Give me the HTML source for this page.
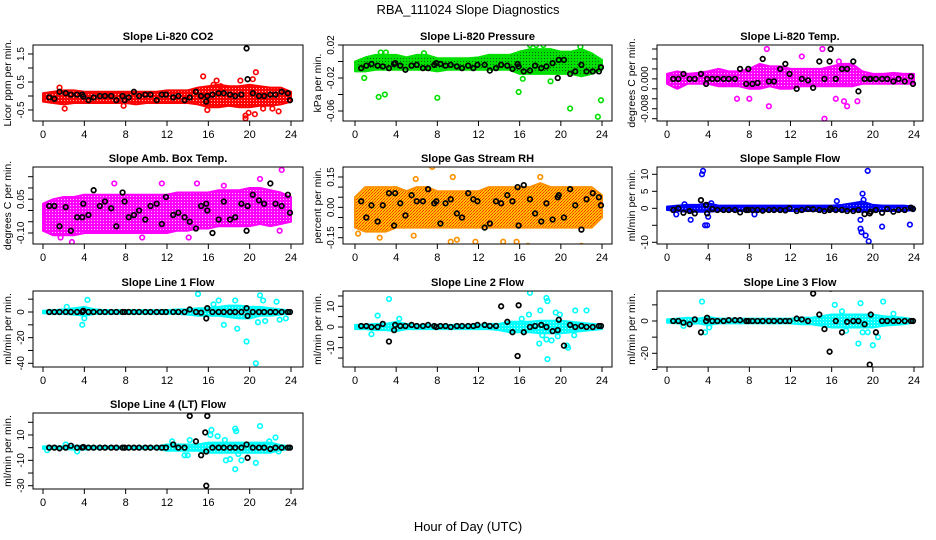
<!DOCTYPE html>
<html><head><meta charset="utf-8"><style>
body{margin:0;background:#fff;}
svg{display:block;font-family:"Liberation Sans",Arial,sans-serif;}
</style></head><body>
<svg id="chart" width="936" height="540" viewBox="0 0 936 540" xmlns="http://www.w3.org/2000/svg">
<defs>
<pattern id="pRed" width="3" height="3" patternUnits="userSpaceOnUse"><rect width="3" height="3" fill="#ff0000"/><rect x="1" y="1" width="1" height="1" fill="#ffb0b0"/></pattern>
<pattern id="pGreen" width="3" height="3" patternUnits="userSpaceOnUse"><rect width="3" height="3" fill="#00e000"/><rect x="1" y="1" width="1" height="1" fill="#106010"/></pattern>
<pattern id="pMag" width="3" height="3" patternUnits="userSpaceOnUse"><rect width="3" height="3" fill="#ff00ff"/><rect x="1" y="1" width="1" height="1" fill="#ffc0ff"/></pattern>
<pattern id="pOrange" width="3" height="3" patternUnits="userSpaceOnUse"><rect width="3" height="3" fill="#ffc000"/><rect width="1" height="1" fill="#ff3000"/><rect x="2" y="1" width="1" height="1" fill="#ff3000"/><rect x="1" y="2" width="1" height="1" fill="#ff6000"/></pattern>
<pattern id="pBlue" width="3" height="3" patternUnits="userSpaceOnUse"><rect width="3" height="3" fill="#0000ff"/><rect x="1" y="1" width="1" height="1" fill="#8080ff"/></pattern>
<pattern id="pCyan" width="3" height="3" patternUnits="userSpaceOnUse"><rect width="3" height="3" fill="#00ffff"/><rect x="1" y="1" width="1" height="1" fill="#b0ffff"/></pattern>
</defs>
<text x="468" y="14" font-size="13" text-anchor="middle">RBA_111024  Slope Diagnostics</text>
<text x="468" y="531" font-size="13" text-anchor="middle">Hour of Day (UTC)</text>
</svg>
<script>
// shared hour axis
const xTicks = [0,4,8,12,16,20,24];
const blackHours = [0.6,1.1,1.6,2.2,2.7,3.3,3.8,3.9,4.4,4.9,5.5,6.0,6.6,7.1,7.7,7.9,8.3,8.8,9.3,9.9,10.4,11.0,11.5,11.9,12.6,13.1,13.7,14.2,14.8,15.3,15.8,15.9,16.4,17.0,17.5,18.1,18.6,19.2,19.7,19.8,20.3,20.9,21.4,22.0,22.5,23.1,23.7,23.9];
const bandHours = [0,1,2,3,4,5,6,7,8,9,10,11,12,13,14,15,16,17,18,19,20,21,22,23,24];

// Panel 1: CO2
const co2Low = [-0.2,-0.25,-0.3,-0.25,-0.25,-0.25,-0.25,-0.25,-0.25,-0.3,-0.25,-0.25,-0.25,-0.25,-0.25,-0.3,-0.4,-0.4,-0.35,-0.4,-0.4,-0.35,-0.35,-0.3,-0.2];
const co2High = [0.1,0.15,0.2,0.2,0.15,0.15,0.15,0.15,0.15,0.15,0.15,0.15,0.2,0.2,0.2,0.3,0.35,0.4,0.35,0.35,0.4,0.35,0.3,0.3,0.15];
const co2Black = [-0.05,-0.1,0.15,0.1,0.05,0.05,0.05,-0.02,-0.15,-0.05,0,0,0,-0.15,0,-0.15,-0.05,0.15,0,0.05,0.05,-0.15,0.05,0.05,-0.05,0,-0.15,-0.05,0.15,0,-0.2,0,0.05,0.1,0.1,0.05,0,0.05,1.7,0.6,0.1,0,0,0.05,0.05,0.15,0.1,-0.15];
const co2Out = [[2.1,-0.45],[15.5,0.7],[15.9,-0.5],[16.5,0.4],[16.8,0.55],[17.2,0.35],[19.1,0.55],[19.6,-0.7],[19.6,-0.8],[19.9,-0.6],[20.3,0.6],[20.6,0.85],[20.5,-0.65],[21.3,-0.45],[22.8,-0.55],[22.2,-0.45],[1.6,0.3],[7.8,-0.35]];
const co2Ticks = [-0.5,0,0.5,1,1.5];
const co2Labels = ["-0.5","","0.5","","1.5"];

// Panel 2: Pressure
const presLow = [-0.012,-0.012,-0.01,-0.01,-0.01,-0.01,-0.01,-0.01,-0.012,-0.01,-0.01,-0.01,-0.01,-0.01,-0.01,-0.01,-0.015,-0.015,-0.015,-0.015,-0.015,-0.015,-0.018,-0.015,-0.01];
const presHigh = [0,0.005,0.008,0.008,0.008,0.005,0.008,0.008,0.004,0.004,0.004,0.004,0.005,0.008,0.008,0.008,0.012,0.015,0.015,0.015,0.012,0.012,0.015,0.01,0.002];
const presBlack = [-0.008,-0.005,-0.003,-0.005,-0.006,-0.008,-0.003,-0.002,-0.005,-0.01,-0.005,-0.004,-0.008,-0.008,-0.004,-0.002,-0.003,-0.005,-0.004,-0.006,-0.008,-0.005,-0.008,-0.004,-0.004,-0.011,-0.008,-0.004,-0.005,-0.009,-0.003,-0.006,-0.012,-0.011,-0.005,-0.008,-0.006,-0.002,-0.02,0.002,0.002,-0.015,-0.012,-0.004,-0.012,-0.012,-0.012,-0.007];
const presOut = [[0.9,-0.02],[2.3,-0.043],[2.9,-0.04],[8.0,-0.044],[2.5,0.011],[3.0,0.011],[6.7,0.010],[15.9,-0.037],[16.3,-0.021],[19.0,-0.024],[19.4,-0.078],[20.9,-0.057],[23.6,-0.067],[23.9,-0.047],[17.0,0.02],[17.6,0.02],[18.3,0.02],[21.9,0.018]];
const presTicks = [0.02,0,-0.02,-0.04,-0.06];
const presLabels = ["0.02","","-0.02","","-0.06"];

// Panel 3: Li-820 Temp
const ltLow = [-0.001,-0.002,-0.001,-0.001,-0.001,-0.0015,-0.0015,-0.0015,-0.002,-0.002,-0.0015,-0.002,-0.002,-0.0015,-0.0015,-0.0015,-0.0015,-0.0015,-0.0015,-0.001,-0.001,-0.001,-0.001,-0.001,-0.001];
const ltHigh = [0.001,0.0015,0.001,0.0012,0.0015,0.002,0.0015,0.0015,0.002,0.003,0.0025,0.0025,0.002,0.002,0.002,0.002,0.0025,0.003,0.003,0.0015,0.001,0.001,0.0012,0.001,0.001];
const ltBlack = [0,0,0.001,0,0,0.001,-0.001,0,0,0,0,0,0,0.002,-0.001,0.002,-0.001,-0.0008,0.004,-0.0005,-0.0005,0.002,0.003,0.001,-0.002,0,-0.0003,-0.0018,0.0035,0,0.0035,0.006,0,0.002,0.002,0.0035,-0.0025,0,0,0,0,0,0,-0.0005,0,-0.0005,0.0005,-0.001];
const ltOut = [[9.7,0.006],[15.3,-0.008],[9.9,-0.0055],[15.1,0.006],[6.8,-0.004],[8.0,-0.004],[16.4,-0.004],[17.2,-0.0045],[17.5,-0.0055],[18.5,-0.0045],[13.1,0.0045],[16.7,0.0035]];
const ltTicks = [0.006,0.004,0.002,0,-0.002,-0.004,-0.006,-0.008];
const ltLabels = ["","","","0.000","","","-0.008",""];

// Panel 4: Amb. Box Temp
const abLow = [-0.09,-0.11,-0.11,-0.11,-0.1,-0.1,-0.1,-0.1,-0.1,-0.1,-0.1,-0.1,-0.1,-0.09,-0.09,-0.08,-0.08,-0.07,-0.07,-0.07,-0.07,-0.06,-0.07,-0.06,-0.05];
const abHigh = [0.03,0.05,0.06,0.06,0.07,0.07,0.07,0.07,0.07,0.07,0.07,0.07,0.07,0.08,0.08,0.08,0.08,0.09,0.09,0.09,0.1,0.1,0.09,0.08,0.06];
const abBlack = [0.02,0.02,-0.07,0.015,-0.09,-0.03,-0.03,0.03,-0.02,0.09,0.02,0.04,0.01,-0.07,0.08,0.04,-0.03,-0.02,0.0,-0.04,0.02,0.03,-0.06,0.06,-0.02,-0.01,-0.03,-0.05,-0.08,0.02,0.03,0.0,-0.1,-0.04,0.04,-0.04,-0.03,0.03,-0.09,0.02,0.07,0.045,0.03,0.12,0.03,0.02,0.07,-0.01];
const abOut = [[2.8,-0.14],[1.7,-0.12],[9.6,-0.12],[14.1,-0.12],[23.1,0.18],[21.0,0.14],[22.9,-0.09],[6.9,0.12],[11.5,0.12],[14.9,0.12],[17.5,0.11]];
const abTicks = [0.15,0.1,0.05,0,-0.05,-0.1];
const abLabels = ["","","0.05","","","-0.10"];

// Panel 5: Gas Stream RH
const rhLow = [-0.1,-0.12,-0.12,-0.12,-0.1,-0.1,-0.1,-0.1,-0.1,-0.1,-0.1,-0.1,-0.1,-0.1,-0.1,-0.1,-0.1,-0.1,-0.1,-0.1,-0.1,-0.1,-0.1,-0.1,-0.05];
const rhHigh = [0.05,0.1,0.1,0.1,0.1,0.08,0.1,0.1,0.08,0.08,0.08,0.08,0.08,0.1,0.1,0.1,0.1,0.1,0.12,0.1,0.1,0.1,0.1,0.1,0.06];
const rhBlack = [0.03,-0.05,0.01,-0.07,0.01,0.07,-0.09,0.07,0.02,-0.04,0.06,0.03,0.03,0.09,0.02,0.03,-0.08,0.02,0.04,-0.03,-0.05,0.07,0.04,0.03,-0.1,-0.08,0.03,0.02,0.06,0.03,0.1,-0.09,0.11,0.04,-0.03,-0.07,0.02,-0.06,0.05,0.06,-0.05,0.09,0.01,-0.11,0.04,0.07,0.05,0.01];
const rhOut = [[7.5,0.2],[0.3,-0.13],[2.4,-0.15],[5.7,-0.14],[8.8,-0.2],[9.3,-0.17],[11.7,-0.17],[15.7,-0.17],[16.8,-0.19],[22.0,-0.19],[9.9,-0.16],[14.4,-0.17],[18.0,0.15],[9.5,0.15],[5.9,0.14]];
const rhTicks = [0.15,0.1,0.05,0,-0.05,-0.1,-0.15];
const rhLabels = ["0.15","","","0.00","","","-0.15"];

// Panel 6: Sample Flow
const sfLow = [-0.5,-0.8,-1,-1,-1,-0.8,-0.8,-0.8,-0.8,-0.8,-0.8,-0.8,-0.8,-0.8,-0.8,-0.8,-0.8,-0.8,-0.8,-1,-0.8,-0.8,-0.8,-0.8,-0.5];
const sfHigh = [0.5,0.8,1,1,1.5,0.8,0.8,0.8,0.8,0.8,0.8,0.8,0.8,0.8,0.8,0.8,0.8,1,1.5,2,1,0.8,0.8,0.8,0.5];
const sfBlack = [-0.5,0,-1.3,-0.8,-1.5,2.4,1,-1.5,-0.2,-0.5,-0.5,-0.5,-0.5,-1.2,-0.5,-0.5,-0.5,-0.5,-0.7,-0.5,-0.5,-0.5,-0.6,0,-0.8,-0.5,-0.2,-0.3,-0.5,-0.8,-0.5,0,-0.5,-0.5,-0.8,-0.8,-0.5,-1.7,-1.5,-1.0,-0.5,-1.3,-0.2,-1.0,-0.5,-0.5,0.2,-0.2];
const sfOut = [[3.4,10],[3.5,11],[3.7,-5],[3.9,-5],[4.0,-2.5],[2.3,-3.4],[19.5,11],[19.0,4.3],[19.1,2.5],[18.8,-6],[18.9,-7],[19.3,-8],[19.6,-9.7],[18.8,-3.4],[20.9,-5.4],[23.6,-4.8],[16.5,2.1],[0.9,-1.8],[8.5,-1.8],[4.3,1.5],[1.7,1.2]];
const sfTicks = [10,5,0,-5,-10];
const sfLabels = ["10","5","0","","-10"];

// Panel 7: Line 1 Flow
const l1Low = [-1,-1.5,-1.5,-2,-3,-1.5,-1.5,-1.5,-1.5,-1.5,-1.5,-1.5,-1.5,-1.5,-2,-3,-3,-3,-4,-5,-5,-3,-3,-2,-1];
const l1High = [1,1.5,2,3,4,2,1.5,1.5,1.5,1.5,1.5,1.5,1.5,2,2,3,3,4,5,5,4,4,3,2,1];
const l1Black = [0,0,0,0,0,0,0,1,0,0,0,0,0,0,0,0,0,0,0,0,0,0,0,0,0,0,0,2,0,-0.5,-5,3,0,0,0,0,0,0,3,-3,0,0,0,0,0,0,0,0];
const l1Out = [[3.8,-10],[4.3,9.5],[4.0,-5],[15.0,14],[16.5,6],[17.0,9],[17.5,-10],[18.6,9],[18.8,-13],[19.7,-23],[20.6,-40],[21.0,13],[21.3,9],[22.6,8],[20.8,-8],[22.9,-6],[23.5,-5],[21.5,-7],[2.3,4]];
const l1Ticks = [10,0,-10,-20,-30,-40];
const l1Labels = ["","0","","-20","","-40"];

// Panel 8: Line 2 Flow
const l2Low = [-1,-1,-1.5,-1.5,-2,-1,-1,-1,-1,-1,-1,-1,-1,-1,-1.5,-2.5,-2.5,-2.5,-3,-3,-3,-2.5,-2,-1.5,-1];
const l2High = [1,1,1.5,1.5,2.5,1.5,1,1,1,1,1,1,1,1.5,1.5,2.5,2.5,2.5,3,3,3,2.5,2,1.5,1];
const l2Black = [0.5,0.5,0,0,1.5,-7,-1.5,1,0.5,0.5,1,0.5,0.5,1,0.5,0,0.5,0.5,0,0.5,0.5,0.5,0.5,1,1,0.5,0.5,10,2.5,-2.5,-14,10.5,-2.5,0,0.5,1,0,-2,-1.5,3.5,-9,1,0,0.5,0,0,0.5,0.5];
const l2Out = [[3.3,13.5],[2.2,5.5],[1.6,-3.5],[17.0,16.5],[18.6,14],[18.7,12.5],[18.0,8],[16.9,6],[17.9,-8],[18.2,-4],[18.6,-6],[18.7,-15.5],[19.1,-6.5],[19.5,7],[19.9,6],[20.6,-9],[20.7,-10],[21.4,8],[22.5,8],[21.3,-4],[19.3,-1.5],[19.7,-4.5],[16.2,4],[4.3,4]];
const l2Ticks = [15,10,5,0,-5,-10,-15];
const l2Labels = ["","10","","0","","-10",""];

// Panel 9: Line 3 Flow
const l3Low = [-1,-1.5,-2,-1.5,-2.5,-1.5,-1.5,-1.5,-1.5,-1.5,-1.5,-1.5,-1.5,-2,-2,-3,-4,-4,-4,-4,-4,-3,-2.5,-2,-1];
const l3High = [1,1.5,2,1.5,2.5,1.5,1.5,1.5,1.5,1.5,1.5,1.5,1.5,2,2,3,4,4,4,4,4,3,2.5,2,1];
const l3Black = [0,0,-1,-2,1,-7,0,2,0,0,0,0.5,0.5,0.5,0,0,0,0,0,0,0,0,0,0,1.5,1,0,17,4,-5,-19,20,0,-7,-0.5,0,0,-2,-27,4,-7,0,0,0,0,0,0,0];
const l3Out = [[3.4,12],[3.7,-7],[4.1,-4],[16.3,10],[17.0,6],[18.6,-14],[18.8,11],[19.5,-7],[20.0,-15],[20.5,-10],[21.0,12],[22.0,4.5],[17.4,-6],[19.0,-7],[1.6,-3]];
const l3Ticks = [10,0,-10,-20,-30];
const l3Labels = ["","0","","-20",""];

// Panel 10: Line 4 (LT) Flow
const l4Low = [-1,-1,-1,-1.5,-1.5,-1,-1,-1,-1,-1,-1,-1,-2.5,-2.5,-2.5,-2.5,-4,-4,-4,-4,-4,-4,-4,-2,-1];
const l4High = [1,1,1,1.5,1.5,1,1,1,1,1,1,1,2.5,2.5,2.5,2.5,4,4,4,4,4,4,4,2,1];
const l4Black = [0,0,-0.5,0,1.5,0,0,0.5,0,0,0,0,0,0,0,0,0,0,0,0,0,0,0,0,2.5,0,0,25,5,-6,-30,25,0,0,0,0,0,0,2.5,-8,0,0,0,-1,0,0,0,0];
const l4Extra = [[15.7,12],[15.8,-3]];
const l4Out = [[2.2,2.5],[12.5,5],[13.7,-6],[14.2,6],[16.3,14],[16.2,10],[16.9,9],[17.6,6],[17.7,-10],[18.1,-9],[18.6,15],[18.7,13],[18.6,-17],[18.9,-5],[19.2,-10],[20.6,-12],[21.0,17],[22.5,8],[21.9,5],[22.8,-3],[14.0,-6],[0.4,-2],[3.3,-3]];
const l4Ticks = [20,10,0,-10,-20,-30];
const l4Labels = ["","10","","-10","","-30"];

const NS = "http://www.w3.org/2000/svg";
const svg = document.getElementById('chart');
const cols = [[33,303,43,291],[343,612,355,602],[657,923,667,914]];
const rows = [[45,121],[167,244],[291,367],[413,489]];

function mk(tag, attrs, parent){
  const e = document.createElementNS(NS, tag);
  for (const k in attrs) e.setAttribute(k, attrs[k]);
  (parent||svg).appendChild(e);
  return e;
}

const panels = [
 {id:'co2',c:0,r:0,title:'Slope Li-820 CO2',ylab:'Licor ppm per min.',v0:1.5,p0:54,v1:-0.5,p1:110,fill:'url(#pRed)',col:'#ff0000',lo:co2Low,hi:co2High,bl:co2Black,out:co2Out,ticks:co2Ticks,labels:co2Labels},
 {id:'pressure',c:1,r:0,title:'Slope Li-820 Pressure',ylab:'kPa per min.',v0:0.02,p0:45,v1:-0.06,p1:111,fill:'url(#pGreen)',col:'#00e000',lo:presLow,hi:presHigh,bl:presBlack,out:presOut,ticks:presTicks,labels:presLabels},
 {id:'li820-temp',c:2,r:0,title:'Slope Li-820 Temp.',ylab:'degrees C per min.',v0:0.006,p0:49,v1:-0.008,p1:118.7,fill:'url(#pMag)',col:'#ff00ff',lo:ltLow,hi:ltHigh,bl:ltBlack,out:ltOut,ticks:ltTicks,labels:ltLabels},
 {id:'amb-box-temp',c:0,r:1,title:'Slope Amb. Box Temp.',ylab:'degrees C per min.',v0:0.15,p0:176.7,v1:-0.1,p1:233,fill:'url(#pMag)',col:'#ff00ff',lo:abLow,hi:abHigh,bl:abBlack,out:abOut,ticks:abTicks,labels:abLabels},
 {id:'gas-stream-rh',c:1,r:1,title:'Slope Gas Stream RH',ylab:'percent per min.',v0:0.15,p0:177,v1:-0.15,p1:237.7,fill:'url(#pOrange)',col:'#ff9000',lo:rhLow,hi:rhHigh,bl:rhBlack,out:rhOut,ticks:rhTicks,labels:rhLabels},
 {id:'sample-flow',c:2,r:1,title:'Slope Sample Flow',ylab:'ml/min per min.',v0:10,p0:174.3,v1:-10,p1:242.3,fill:'url(#pBlue)',col:'#0000ff',lo:sfLow,hi:sfHigh,bl:sfBlack,out:sfOut,ticks:sfTicks,labels:sfLabels},
 {id:'line1-flow',c:0,r:2,title:'Slope Line 1 Flow',ylab:'ml/min per min.',v0:0,p0:312,v1:-40,p1:363.3,fill:'url(#pCyan)',col:'#00ffff',lo:l1Low,hi:l1High,bl:l1Black,out:l1Out,ticks:l1Ticks,labels:l1Labels},
 {id:'line2-flow',c:1,r:2,title:'Slope Line 2 Flow',ylab:'ml/min per min.',v0:10,p0:306.3,v1:0,p1:327,fill:'url(#pCyan)',col:'#00ffff',lo:l2Low,hi:l2High,bl:l2Black,out:l2Out,ticks:l2Ticks,labels:l2Labels},
 {id:'line3-flow',c:2,r:2,title:'Slope Line 3 Flow',ylab:'ml/min per min.',v0:0,p0:321,v1:-20,p1:353.3,fill:'url(#pCyan)',col:'#00ffff',lo:l3Low,hi:l3High,bl:l3Black,out:l3Out,ticks:l3Ticks,labels:l3Labels},
 {id:'line4-flow',c:0,r:3,title:'Slope Line 4 (LT) Flow',ylab:'ml/min per min.',v0:20,p0:422.3,v1:-30,p1:485.7,fill:'url(#pCyan)',col:'#00ffff',lo:l4Low,hi:l4High,bl:l4Black,out:l4Out,ticks:l4Ticks,labels:l4Labels,extra:l4Extra}
];

panels.forEach(function(p){
  const [L,R,X0,X24] = cols[p.c];
  const [T,B] = rows[p.r];
  const xs = h => X0 + h*(X24-X0)/24;
  const ys = v => p.p0 + (v-p.v0)*(p.p1-p.p0)/(p.v1-p.v0);
  const g = mk('g', {});
  
  
  const cp = mk('clipPath', {id:'clip-'+p.id}, g);
  mk('rect', {x:L, y:T, width:R-L, height:B-T}, cp);
  const plot = mk('g', {'clip-path':'url(#clip-'+p.id+')'}, g);
  
  
  let pts = [];
  bandHours.forEach((h,i)=>{ if(i<p.hi.length) pts.push(xs(h).toFixed(1)+','+ys(p.hi[i]).toFixed(1)); });
  for (let i=bandHours.length-1;i>=0;i--){ if(i<p.lo.length) pts.push(xs(bandHours[i]).toFixed(1)+','+ys(p.lo[i]).toFixed(1)); }
  const band = mk('polygon', {points:pts.join(' '), fill:p.fill, stroke:p.col, 'stroke-width':2, 'stroke-linejoin':'round'}, plot);
  
  
  p.out.forEach(function(o){
    const c = mk('circle', {cx:xs(o[0]), cy:ys(o[1]), r:2.3, fill:'none', stroke:p.col, 'stroke-width':1.6}, plot);
    
    
  });
  const n = Math.min(blackHours.length, p.bl.length);
  for (let i=0;i<n;i++){
    const c = mk('circle', {cx:xs(blackHours[i]), cy:ys(p.bl[i]), r:2.3, fill:'none', stroke:'#000', 'stroke-width':1.7}, plot);
    
    
  }
  (p.extra||[]).forEach(function(o){
    const c = mk('circle', {cx:xs(o[0]), cy:ys(o[1]), r:2.3, fill:'none', stroke:'#000', 'stroke-width':1.7}, plot);
    
    
  });
  const box = mk('rect', {x:L, y:T, width:R-L, height:B-T, fill:'none', stroke:'#000', 'stroke-width':1}, g);
  
  
  const xa = mk('g', {}, g);
  
  
  mk('line', {x1:xs(0), x2:xs(24), y1:B, y2:B, stroke:'#000'}, xa);
  xTicks.forEach(function(t){
    mk('line', {x1:xs(t), x2:xs(t), y1:B, y2:B+5, stroke:'#000'}, xa);
    const tx = mk('text', {x:xs(t), y:B+17, 'font-size':11, 'text-anchor':'middle'}, xa);
    
    
    tx.textContent = t;
  });
  const ya = mk('g', {}, g);
  
  
  const yTop = ys(p.ticks[0]), yBot = ys(p.ticks[p.ticks.length-1]);
  mk('line', {x1:L, x2:L, y1:yTop, y2:yBot, stroke:'#000'}, ya);
  p.ticks.forEach(function(t,i){
    const y = ys(t);
    mk('line', {x1:L-5, x2:L, y1:y, y2:y, stroke:'#000'}, ya);
    if (p.labels[i]) {
      const tx = mk('text', {x:L-9, y:y, 'font-size':10, 'text-anchor':'middle', transform:'rotate(-90 '+(L-9)+' '+y+')'}, ya);
      
      
      tx.textContent = p.labels[i];
    }
  });
  const yl = mk('text', {x:L-22, y:(T+B)/2, 'font-size':10.5, 'text-anchor':'middle', transform:'rotate(-90 '+(L-22)+' '+((T+B)/2)+')'}, g);
  
  
  yl.textContent = p.ylab;
  const tt = mk('text', {x:(L+R)/2, y:T-5, 'font-size':11, 'font-weight':'bold', 'text-anchor':'middle'}, g);
  
  
  tt.textContent = p.title;
});
</script>
</body></html>
